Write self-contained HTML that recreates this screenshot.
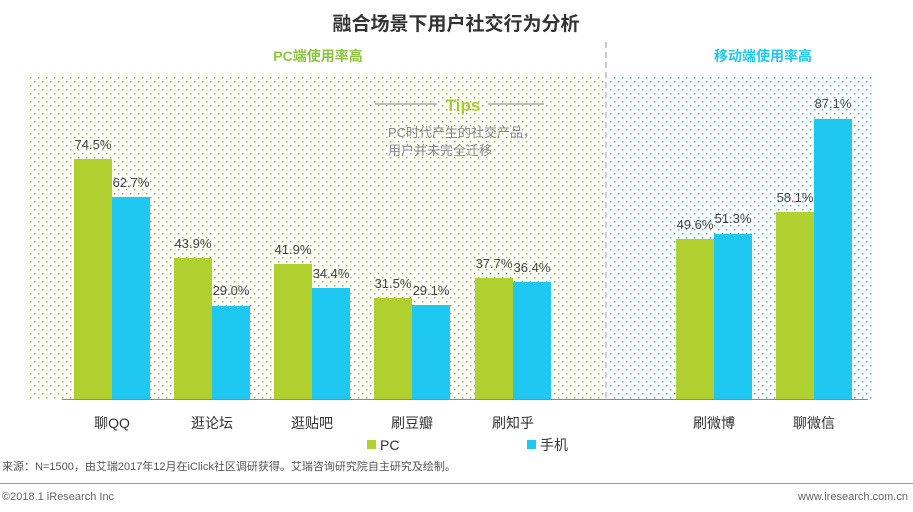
<!DOCTYPE html>
<html><head><meta charset="utf-8"><style>
body{margin:0;width:913px;height:507px;background:#fff;font-family:"Liberation Sans","Noto Sans CJK SC",sans-serif;overflow:hidden}
</style></head><body>
<svg width="913" height="507" xmlns="http://www.w3.org/2000/svg" font-family="Liberation Sans, Noto Sans CJK SC, sans-serif">
<defs>
<pattern id="pg" x="0" y="0" width="8" height="8" patternUnits="userSpaceOnUse">
<rect x="2" y="1" width="1.4" height="1.4" fill="#8fb040"/><rect x="6" y="5" width="1.4" height="1.4" fill="#8fb040"/></pattern>
<pattern id="pb" x="0" y="0" width="8" height="8" patternUnits="userSpaceOnUse">
<rect x="2" y="1" width="1.4" height="1.4" fill="#2db5d6"/><rect x="6" y="5" width="1.4" height="1.4" fill="#2db5d6"/></pattern>
</defs>
<text x="456" y="30" text-anchor="middle" font-size="19" font-weight="bold" fill="#333">融合场景下用户社交行为分析</text>
<text x="318" y="61" text-anchor="middle" font-size="14" font-weight="bold" fill="#8cc43f">PC端使用率高</text>
<text x="763" y="61" text-anchor="middle" font-size="14" font-weight="bold" fill="#1ec8ef">移动端使用率高</text>
<rect x="30" y="75" width="576" height="324" fill="url(#pg)"/>
<rect x="608" y="75" width="266" height="324" fill="url(#pb)"/>
<line x1="606" y1="42" x2="606" y2="400" stroke="#bbb" stroke-width="1.5" stroke-dasharray="6,4"/>
<line x1="375" y1="104" x2="437" y2="104" stroke="#aaa" stroke-width="1.5"/>
<line x1="488" y1="104" x2="544" y2="104" stroke="#aaa" stroke-width="1.5"/>
<text x="463" y="111" text-anchor="middle" font-size="17" font-weight="bold" fill="#a8cc2c">Tips</text>
<text x="388" y="137" font-size="13" fill="#888">PC时代产生的社交产品，</text>
<text x="388" y="155" font-size="13" fill="#888">用户并未完全迁移</text>
<g font-size="13" fill="#444" text-anchor="middle">
<rect x="74" y="159" width="38" height="240" fill="#b0d02f"/><rect x="112" y="197" width="38" height="202" fill="#1fc8f0"/>
<text x="93" y="149">74.5%</text><text x="131" y="187">62.7%</text>
<rect x="174" y="258" width="38" height="141" fill="#b0d02f"/><rect x="212" y="306" width="38" height="93" fill="#1fc8f0"/>
<text x="193" y="248">43.9%</text><text x="231" y="295">29.0%</text>
<rect x="274" y="264" width="38" height="135" fill="#b0d02f"/><rect x="312" y="288" width="38" height="111" fill="#1fc8f0"/>
<text x="293" y="254">41.9%</text><text x="331" y="278">34.4%</text>
<rect x="374" y="298" width="38" height="101" fill="#b0d02f"/><rect x="412" y="305" width="38" height="94" fill="#1fc8f0"/>
<text x="393" y="288">31.5%</text><text x="431" y="295">29.1%</text>
<rect x="475" y="278" width="38" height="121" fill="#b0d02f"/><rect x="513" y="282" width="38" height="117" fill="#1fc8f0"/>
<text x="494" y="268">37.7%</text><text x="532" y="272">36.4%</text>
<rect x="676" y="239" width="38" height="160" fill="#b0d02f"/><rect x="714" y="234" width="38" height="165" fill="#1fc8f0"/>
<text x="695" y="229">49.6%</text><text x="733" y="223">51.3%</text>
<rect x="776" y="212" width="38" height="187" fill="#b0d02f"/><rect x="814" y="119" width="38" height="280" fill="#1fc8f0"/>
<text x="795" y="202">58.1%</text><text x="833" y="108">87.1%</text>
</g>
<line x1="62" y1="399.5" x2="868" y2="399.5" stroke="#888" stroke-width="1"/>
<g font-size="14" fill="#333" text-anchor="middle">
<text x="112" y="428">聊QQ</text><text x="212" y="428">逛论坛</text><text x="312" y="428">逛贴吧</text><text x="412" y="428">刷豆瓣</text><text x="513" y="428">刷知乎</text><text x="714" y="428">刷微博</text><text x="814" y="428">聊微信</text>
</g>
<rect x="367" y="440" width="9" height="9" fill="#b0d02f"/><text x="380" y="450" font-size="14" fill="#333">PC</text>
<rect x="527" y="440" width="9" height="9" fill="#1fc8f0"/><text x="540" y="450" font-size="14" fill="#333">手机</text>
<text x="2" y="470" font-size="11" fill="#555">来源：N=1500，由艾瑞2017年12月在iClick社区调研获得。艾瑞咨询研究院自主研究及绘制。</text>
<line x1="0" y1="483.5" x2="913" y2="483.5" stroke="#999" stroke-width="1"/>
<text x="2" y="500" font-size="11" fill="#666">©2018.1  iResearch Inc</text>
<text x="908" y="500" text-anchor="end" font-size="11" fill="#666">www.iresearch.com.cn</text>
</svg>
</body></html>
